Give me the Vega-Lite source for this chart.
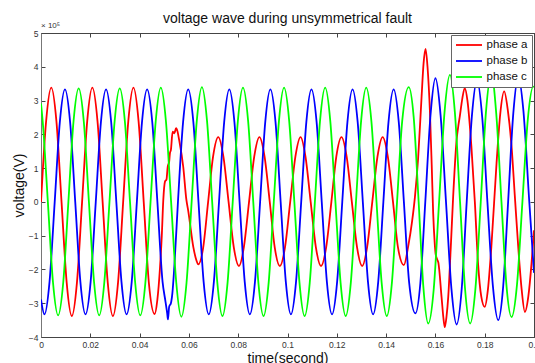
{
"$schema": "https://vega.github.io/schema/vega-lite/v6.json",
"width": 493, "height": 304,
"autosize": {"type": "none"},
"padding": {"left": 41, "top": 33, "right": 1, "bottom": 26},
"background": "white",
"config": {"view": {"stroke": "#444", "strokeWidth": 1}, "font": "Liberation Sans"},
"title": {"text": "voltage wave during unsymmetrical fault", "fontSize": 14, "fontWeight": "normal", "color": "#111", "offset": -4},
"layer": [
{"data": {"values": [
{"p":"phase a","t":0,"v":0},{"p":"phase a","t":0.00208,"v":2.39},{"p":"phase a","t":0.00417,"v":3.38},{"p":"phase a","t":0.00625,"v":2.39},{"p":"phase a","t":0.00833,"v":0},{"p":"phase a","t":0.01042,"v":-2.39},{"p":"phase a","t":0.0125,"v":-3.38},{"p":"phase a","t":0.01458,"v":-2.39},{"p":"phase a","t":0.01667,"v":0},{"p":"phase a","t":0.01875,"v":2.39},{"p":"phase a","t":0.02083,"v":3.38},{"p":"phase a","t":0.02292,"v":2.39},{"p":"phase a","t":0.025,"v":0},{"p":"phase a","t":0.02708,"v":-2.39},{"p":"phase a","t":0.02917,"v":-3.38},{"p":"phase a","t":0.03125,"v":-2.39},{"p":"phase a","t":0.03333,"v":0},{"p":"phase a","t":0.03542,"v":2.39},{"p":"phase a","t":0.0375,"v":3.38},{"p":"phase a","t":0.03958,"v":2.39},{"p":"phase a","t":0.04167,"v":0},{"p":"phase a","t":0.04375,"v":-2.39},{"p":"phase a","t":0.0461,"v":-3.32},{"p":"phase a","t":0.0472,"v":-2.9},{"p":"phase a","t":0.0483,"v":-1.92},{"p":"phase a","t":0.049,"v":-1.0},{"p":"phase a","t":0.0496,"v":0.04},{"p":"phase a","t":0.0503,"v":0.6},{"p":"phase a","t":0.0509,"v":0.66},{"p":"phase a","t":0.0514,"v":1.04},{"p":"phase a","t":0.052,"v":1.19},{"p":"phase a","t":0.0523,"v":1.44},{"p":"phase a","t":0.0527,"v":1.54},{"p":"phase a","t":0.0534,"v":2.08},{"p":"phase a","t":0.0541,"v":2.03},{"p":"phase a","t":0.0548,"v":2.18},{"p":"phase a","t":0.0554,"v":2.08},{"p":"phase a","t":0.056,"v":1.85},{"p":"phase a","t":0.0577,"v":1.04},{"p":"phase a","t":0.059,"v":0.05},{"p":"phase a","t":0.0597,"v":-0.25},{"p":"phase a","t":0.0618,"v":-1.34},{"p":"phase a","t":0.063,"v":-1.72},{"p":"phase a","t":0.0638,"v":-1.85},{"p":"phase a","t":0.0657,"v":-1.4},{"p":"phase a","t":0.0678,"v":0},{"p":"phase a","t":0.0698,"v":1.34},{"p":"phase a","t":0.0719,"v":1.92},{"p":"phase a","t":0.074,"v":1.34},{"p":"phase a","t":0.0761,"v":0},{"p":"phase a","t":0.0782,"v":-1.34},{"p":"phase a","t":0.0803,"v":-1.9},{"p":"phase a","t":0.0823,"v":-1.34},{"p":"phase a","t":0.0844,"v":0},{"p":"phase a","t":0.0865,"v":1.34},{"p":"phase a","t":0.0886,"v":1.92},{"p":"phase a","t":0.0907,"v":1.34},{"p":"phase a","t":0.0928,"v":0},{"p":"phase a","t":0.0948,"v":-1.34},{"p":"phase a","t":0.0969,"v":-1.9},{"p":"phase a","t":0.099,"v":-1.34},{"p":"phase a","t":0.1011,"v":0},{"p":"phase a","t":0.1032,"v":1.34},{"p":"phase a","t":0.1053,"v":1.92},{"p":"phase a","t":0.1073,"v":1.34},{"p":"phase a","t":0.1094,"v":0},{"p":"phase a","t":0.1115,"v":-1.34},{"p":"phase a","t":0.1136,"v":-1.9},{"p":"phase a","t":0.1157,"v":-1.34},{"p":"phase a","t":0.1178,"v":0},{"p":"phase a","t":0.1198,"v":1.34},{"p":"phase a","t":0.1219,"v":1.92},{"p":"phase a","t":0.124,"v":1.34},{"p":"phase a","t":0.1261,"v":0},{"p":"phase a","t":0.1282,"v":-1.34},{"p":"phase a","t":0.1303,"v":-1.9},{"p":"phase a","t":0.1323,"v":-1.34},{"p":"phase a","t":0.1344,"v":0},{"p":"phase a","t":0.1365,"v":1.34},{"p":"phase a","t":0.1386,"v":1.92},{"p":"phase a","t":0.1407,"v":1.34},{"p":"phase a","t":0.1428,"v":0},{"p":"phase a","t":0.1448,"v":-1.34},{"p":"phase a","t":0.1472,"v":-1.87},{"p":"phase a","t":0.149,"v":-1.3},{"p":"phase a","t":0.1505,"v":-0.6},{"p":"phase a","t":0.1517,"v":0.15},{"p":"phase a","t":0.153,"v":1.3},{"p":"phase a","t":0.1544,"v":3.12},{"p":"phase a","t":0.1552,"v":4.1},{"p":"phase a","t":0.156,"v":4.53},{"p":"phase a","t":0.1568,"v":4.0},{"p":"phase a","t":0.1578,"v":2.63},{"p":"phase a","t":0.1585,"v":1.1},{"p":"phase a","t":0.1591,"v":-0.34},{"p":"phase a","t":0.1597,"v":-1.2},{"p":"phase a","t":0.1601,"v":-1.55},{"p":"phase a","t":0.1607,"v":-1.7},{"p":"phase a","t":0.1612,"v":-1.8},{"p":"phase a","t":0.1625,"v":-2.82},{"p":"phase a","t":0.1632,"v":-3.4},{"p":"phase a","t":0.1638,"v":-3.71},{"p":"phase a","t":0.1645,"v":-3.4},{"p":"phase a","t":0.1652,"v":-2.82},{"p":"phase a","t":0.1662,"v":-1.4},{"p":"phase a","t":0.1672,"v":0.15},{"p":"phase a","t":0.1686,"v":1.83},{"p":"phase a","t":0.1694,"v":2.3},{"p":"phase a","t":0.1699,"v":2.53},{"p":"phase a","t":0.1709,"v":3.05},{"p":"phase a","t":0.1719,"v":3.37},{"p":"phase a","t":0.173,"v":3.0},{"p":"phase a","t":0.1746,"v":1.64},{"p":"phase a","t":0.176,"v":0},{"p":"phase a","t":0.1773,"v":-1.82},{"p":"phase a","t":0.1786,"v":-2.8},{"p":"phase a","t":0.18,"v":-3.11},{"p":"phase a","t":0.1813,"v":-2.6},{"p":"phase a","t":0.1827,"v":-1.33},{"p":"phase a","t":0.1848,"v":1.14},{"p":"phase a","t":0.1863,"v":2.6},{"p":"phase a","t":0.1879,"v":3.27},{"p":"phase a","t":0.1894,"v":2.7},{"p":"phase a","t":0.1909,"v":1.64},{"p":"phase a","t":0.1922,"v":0.2},{"p":"phase a","t":0.1936,"v":-1.33},{"p":"phase a","t":0.195,"v":-2.6},{"p":"phase a","t":0.1963,"v":-3.26},{"p":"phase a","t":0.1977,"v":-2.8},{"p":"phase a","t":0.199,"v":-1.82},{"p":"phase a","t":0.2,"v":-0.84},
{"p":"phase b","t":0,"v":-2.89},{"p":"phase b","t":0.00139,"v":-3.33},{"p":"phase b","t":0.00347,"v":-2.36},{"p":"phase b","t":0.00556,"v":0},{"p":"phase b","t":0.00764,"v":2.36},{"p":"phase b","t":0.00972,"v":3.33},{"p":"phase b","t":0.01181,"v":2.36},{"p":"phase b","t":0.01389,"v":0},{"p":"phase b","t":0.01597,"v":-2.36},{"p":"phase b","t":0.01806,"v":-3.33},{"p":"phase b","t":0.02014,"v":-2.36},{"p":"phase b","t":0.02222,"v":0},{"p":"phase b","t":0.02431,"v":2.36},{"p":"phase b","t":0.02639,"v":3.33},{"p":"phase b","t":0.02847,"v":2.36},{"p":"phase b","t":0.03056,"v":0},{"p":"phase b","t":0.03264,"v":-2.36},{"p":"phase b","t":0.03472,"v":-3.33},{"p":"phase b","t":0.03681,"v":-2.36},{"p":"phase b","t":0.03889,"v":0},{"p":"phase b","t":0.04097,"v":2.36},{"p":"phase b","t":0.04306,"v":3.33},{"p":"phase b","t":0.04514,"v":2.36},{"p":"phase b","t":0.04722,"v":0},{"p":"phase b","t":0.04931,"v":-2.36},{"p":"phase b","t":0.0505,"v":-2.95},{"p":"phase b","t":0.0512,"v":-3.3},{"p":"phase b","t":0.0515,"v":-3.48},{"p":"phase b","t":0.052,"v":-3.1},{"p":"phase b","t":0.0527,"v":-3.0},{"p":"phase b","t":0.0533,"v":-2.7},{"p":"phase b","t":0.0541,"v":-1.9},{"p":"phase b","t":0.05556,"v":0},{"p":"phase b","t":0.05764,"v":2.36},{"p":"phase b","t":0.05972,"v":3.33},{"p":"phase b","t":0.06181,"v":2.36},{"p":"phase b","t":0.06389,"v":0},{"p":"phase b","t":0.06597,"v":-2.36},{"p":"phase b","t":0.06806,"v":-3.33},{"p":"phase b","t":0.07014,"v":-2.36},{"p":"phase b","t":0.07222,"v":0},{"p":"phase b","t":0.07431,"v":2.36},{"p":"phase b","t":0.07639,"v":3.33},{"p":"phase b","t":0.07847,"v":2.36},{"p":"phase b","t":0.08056,"v":0},{"p":"phase b","t":0.08264,"v":-2.36},{"p":"phase b","t":0.08472,"v":-3.33},{"p":"phase b","t":0.08681,"v":-2.36},{"p":"phase b","t":0.08889,"v":0},{"p":"phase b","t":0.09097,"v":2.36},{"p":"phase b","t":0.09306,"v":3.33},{"p":"phase b","t":0.09514,"v":2.36},{"p":"phase b","t":0.09722,"v":0},{"p":"phase b","t":0.09931,"v":-2.36},{"p":"phase b","t":0.10139,"v":-3.33},{"p":"phase b","t":0.10347,"v":-2.36},{"p":"phase b","t":0.10556,"v":0},{"p":"phase b","t":0.10764,"v":2.36},{"p":"phase b","t":0.10972,"v":3.33},{"p":"phase b","t":0.11181,"v":2.36},{"p":"phase b","t":0.11389,"v":0},{"p":"phase b","t":0.11597,"v":-2.36},{"p":"phase b","t":0.11806,"v":-3.33},{"p":"phase b","t":0.12014,"v":-2.36},{"p":"phase b","t":0.12222,"v":0},{"p":"phase b","t":0.12431,"v":2.36},{"p":"phase b","t":0.12639,"v":3.33},{"p":"phase b","t":0.12847,"v":2.36},{"p":"phase b","t":0.13056,"v":0},{"p":"phase b","t":0.13264,"v":-2.36},{"p":"phase b","t":0.13472,"v":-3.33},{"p":"phase b","t":0.13681,"v":-2.36},{"p":"phase b","t":0.13889,"v":0},{"p":"phase b","t":0.14097,"v":2.36},{"p":"phase b","t":0.14306,"v":3.33},{"p":"phase b","t":0.14514,"v":2.36},{"p":"phase b","t":0.14722,"v":0},{"p":"phase b","t":0.14931,"v":-2.36},{"p":"phase b","t":0.1519,"v":-3.3},{"p":"phase b","t":0.1539,"v":-2.4},{"p":"phase b","t":0.1559,"v":0},{"p":"phase b","t":0.158,"v":2.55},{"p":"phase b","t":0.16,"v":3.66},{"p":"phase b","t":0.1621,"v":2.57},{"p":"phase b","t":0.1643,"v":0},{"p":"phase b","t":0.1665,"v":-2.57},{"p":"phase b","t":0.1686,"v":-3.63},{"p":"phase b","t":0.1707,"v":-2.55},{"p":"phase b","t":0.1727,"v":0},{"p":"phase b","t":0.1748,"v":2.54},{"p":"phase b","t":0.1769,"v":3.6},{"p":"phase b","t":0.179,"v":2.5},{"p":"phase b","t":0.1811,"v":0},{"p":"phase b","t":0.1833,"v":-2.47},{"p":"phase b","t":0.1855,"v":-3.5},{"p":"phase b","t":0.1875,"v":-2.5},{"p":"phase b","t":0.1895,"v":0},{"p":"phase b","t":0.1916,"v":2.62},{"p":"phase b","t":0.1936,"v":3.71},{"p":"phase b","t":0.1957,"v":2.7},{"p":"phase b","t":0.198,"v":0.1},{"p":"phase b","t":0.2,"v":-2.1},
{"p":"phase c","t":0,"v":2.91},{"p":"phase c","t":0.00069,"v":2.38},{"p":"phase c","t":0.00278,"v":0},{"p":"phase c","t":0.00486,"v":-2.38},{"p":"phase c","t":0.00694,"v":-3.36},{"p":"phase c","t":0.00903,"v":-2.38},{"p":"phase c","t":0.01111,"v":0},{"p":"phase c","t":0.01319,"v":2.38},{"p":"phase c","t":0.01528,"v":3.36},{"p":"phase c","t":0.01736,"v":2.38},{"p":"phase c","t":0.01944,"v":0},{"p":"phase c","t":0.02153,"v":-2.38},{"p":"phase c","t":0.02361,"v":-3.36},{"p":"phase c","t":0.02569,"v":-2.38},{"p":"phase c","t":0.02778,"v":0},{"p":"phase c","t":0.02986,"v":2.38},{"p":"phase c","t":0.03194,"v":3.36},{"p":"phase c","t":0.03403,"v":2.38},{"p":"phase c","t":0.03611,"v":0},{"p":"phase c","t":0.03819,"v":-2.38},{"p":"phase c","t":0.04028,"v":-3.36},{"p":"phase c","t":0.04236,"v":-2.38},{"p":"phase c","t":0.04444,"v":0},{"p":"phase c","t":0.04653,"v":2.38},{"p":"phase c","t":0.04861,"v":3.38},{"p":"phase c","t":0.05069,"v":2.38},{"p":"phase c","t":0.05278,"v":0},{"p":"phase c","t":0.05486,"v":-2.38},{"p":"phase c","t":0.05694,"v":-3.4},{"p":"phase c","t":0.05903,"v":-2.4},{"p":"phase c","t":0.06111,"v":0},{"p":"phase c","t":0.06319,"v":2.39},{"p":"phase c","t":0.06528,"v":3.4},{"p":"phase c","t":0.06736,"v":2.39},{"p":"phase c","t":0.06944,"v":0},{"p":"phase c","t":0.07153,"v":-2.39},{"p":"phase c","t":0.07361,"v":-3.38},{"p":"phase c","t":0.07569,"v":-2.39},{"p":"phase c","t":0.07778,"v":0},{"p":"phase c","t":0.07986,"v":2.39},{"p":"phase c","t":0.08194,"v":3.38},{"p":"phase c","t":0.08403,"v":2.39},{"p":"phase c","t":0.08611,"v":0},{"p":"phase c","t":0.08819,"v":-2.39},{"p":"phase c","t":0.09028,"v":-3.38},{"p":"phase c","t":0.09236,"v":-2.39},{"p":"phase c","t":0.09444,"v":0},{"p":"phase c","t":0.09653,"v":2.39},{"p":"phase c","t":0.09861,"v":3.38},{"p":"phase c","t":0.10069,"v":2.39},{"p":"phase c","t":0.10278,"v":0},{"p":"phase c","t":0.10486,"v":-2.39},{"p":"phase c","t":0.10694,"v":-3.38},{"p":"phase c","t":0.10903,"v":-2.39},{"p":"phase c","t":0.11111,"v":0},{"p":"phase c","t":0.11319,"v":2.39},{"p":"phase c","t":0.11528,"v":3.38},{"p":"phase c","t":0.11736,"v":2.39},{"p":"phase c","t":0.11944,"v":0},{"p":"phase c","t":0.12153,"v":-2.39},{"p":"phase c","t":0.12361,"v":-3.38},{"p":"phase c","t":0.12569,"v":-2.39},{"p":"phase c","t":0.12778,"v":0},{"p":"phase c","t":0.12986,"v":2.39},{"p":"phase c","t":0.13194,"v":3.38},{"p":"phase c","t":0.13403,"v":2.39},{"p":"phase c","t":0.13611,"v":0},{"p":"phase c","t":0.13819,"v":-2.39},{"p":"phase c","t":0.14028,"v":-3.38},{"p":"phase c","t":0.14236,"v":-2.39},{"p":"phase c","t":0.14444,"v":0},{"p":"phase c","t":0.14653,"v":2.39},{"p":"phase c","t":0.1492,"v":3.4},{"p":"phase c","t":0.1512,"v":2.5},{"p":"phase c","t":0.1532,"v":0},{"p":"phase c","t":0.1551,"v":-2.5},{"p":"phase c","t":0.1571,"v":-3.6},{"p":"phase c","t":0.1593,"v":-2.6},{"p":"phase c","t":0.1615,"v":0},{"p":"phase c","t":0.1637,"v":2.65},{"p":"phase c","t":0.1659,"v":3.76},{"p":"phase c","t":0.1679,"v":2.65},{"p":"phase c","t":0.17,"v":0},{"p":"phase c","t":0.172,"v":-2.55},{"p":"phase c","t":0.1741,"v":-3.6},{"p":"phase c","t":0.1762,"v":-2.6},{"p":"phase c","t":0.1784,"v":0},{"p":"phase c","t":0.1805,"v":2.65},{"p":"phase c","t":0.1827,"v":3.8},{"p":"phase c","t":0.1847,"v":2.6},{"p":"phase c","t":0.1868,"v":0},{"p":"phase c","t":0.1888,"v":-2.45},{"p":"phase c","t":0.1909,"v":-3.41},{"p":"phase c","t":0.1931,"v":-2.45},{"p":"phase c","t":0.1953,"v":0},{"p":"phase c","t":0.1975,"v":2.45},{"p":"phase c","t":0.1997,"v":3.41},{"p":"phase c","t":0.2,"v":3.4}
]},
 "mark": {"type": "line", "interpolate": "monotone", "strokeWidth": 1.8, "clip": true},
 "encoding": {
  "x": {"field": "t", "type": "quantitative", "scale": {"domain": [0, 0.2], "nice": false},
        "axis": {"values": [0,0.02,0.04,0.06,0.08,0.1,0.12,0.14,0.16,0.18,0.2], "format": "~g", "tickSize": -4, "labelPadding": 7, "labelFontSize": 8.5, "labelColor": "#333", "tickColor": "#444", "domainColor": "#444", "grid": false, "title": "time(second)", "titleFontSize": 14, "titleFontWeight": "normal", "titleColor": "#111", "titlePadding": 3, "labelFlush": false}},
  "y": {"field": "v", "type": "quantitative", "scale": {"domain": [-4, 5], "nice": false},
        "axis": {"values": [-4,-3,-2,-1,0,1,2,3,4,5], "format": "d", "tickSize": -4, "labelPadding": 7, "labelFontSize": 8.5, "labelColor": "#333", "tickColor": "#444", "domainColor": "#777", "grid": false, "title": "voltage(V)", "titleFontSize": 14, "titleFontWeight": "normal", "titleColor": "#111", "titlePadding": 2}},
  "color": {"field": "p", "type": "nominal", "scale": {"domain": ["phase a", "phase b", "phase c"], "range": ["#ff0000", "#0000ff", "#00ff00"]},
        "legend": {"orient": "top-right", "offset": 2, "title": null, "symbolType": "M-1,0H4.2", "symbolSize": 100, "symbolStrokeWidth": 1.8, "labelFontSize": 11.5, "labelColor": "#111", "fillColor": "white", "strokeColor": "#666", "padding": 4, "rowPadding": 4, "labelOffset": 19.5}}
 }},
{"data": {"values": [{"x0": 0, "y0": 5, "lab": "× 10⁵"}]},
 "mark": {"type": "text", "align": "left", "baseline": "bottom", "dy": -3, "fontSize": 8, "color": "#333"},
 "encoding": {
  "x": {"field": "x0", "type": "quantitative", "axis": {"orient": "top", "values": [0,0.02,0.04,0.06,0.08,0.1,0.12,0.14,0.16,0.18,0.2], "labels": false, "title": null, "tickSize": -4, "tickColor": "#444", "domainColor": "#444", "grid": false}},
  "y": {"field": "y0", "type": "quantitative", "axis": {"orient": "right", "values": [-4,-3,-2,-1,0,1,2,3,4,5], "labels": false, "title": null, "tickSize": -4, "tickColor": "#444", "domainColor": "#444", "grid": false}},
  "text": {"field": "lab"}
 }}
],
"resolve": {"axis": {"x": "independent", "y": "independent"}}
}
